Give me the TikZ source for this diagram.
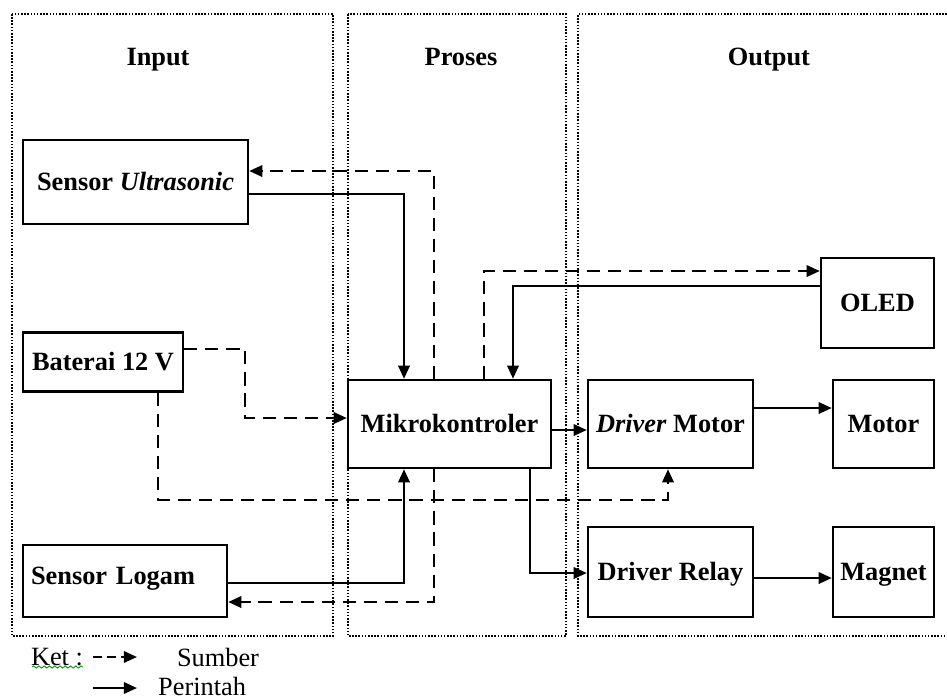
\documentclass[tikz,border=0pt]{standalone}
\usepackage{fontspec}
\setmainfont{Liberation Serif}
\usetikzlibrary{arrows.meta,decorations.pathmorphing}
\tikzset{
  blok/.style={draw, line width=1.4pt, minimum height=1.76cm,
               font=\fontsize{15}{18}\selectfont\bfseries, inner sep=2pt,
               text height=1.1em, text depth=0.15em},
  judul/.style={font=\fontsize{15}{18}\selectfont\bfseries,
                text height=1.1em, text depth=0.15em},
  panel/.style={line width=1.1pt, dash pattern=on 0.9pt off 0.9pt},
  perintah/.style={line width=1.3pt, -{Triangle[length=7.5pt,width=6.5pt]}},
  sumber/.style={perintah, dash pattern=on 7.5pt off 4.5pt},
  ket/.style={font=\fontsize{15}{18}\selectfont},
}

\begin{document}
\begin{tikzpicture}[x=0.02cm, y=-0.02cm]
    \useasboundingbox (0,0) rectangle (947,698);
    % kolom
    \draw[panel] (12,14) rectangle (333,636);
    \draw[panel] (348,14) rectangle (566,636);
    \draw[panel] (947,14) -- (578,14) -- (578,636) -- (947,636);
    \node[judul] (tin) at (158,57) {Input};
    \node[judul] (tpr) at (461,57) {Proses};
    \node[judul] (tout) at (769,57) {Output};
    % blok
    \node[blok, minimum width=4.5cm, minimum height=1.68cm] (ultra) at (135.5,182) {Sensor \textit{Ultrasonic}};
    \node[blok, minimum width=3.2cm, minimum height=1.18cm] (baterai) at (103,362) {Baterai 12 V};
    \node[blok, minimum width=4.08cm, minimum height=1.44cm, text width=3.76cm,
          inner xsep=0.16cm, align=left, text depth=0.75em] (logam) at (125,581) {Sensor Logam};
    \node[blok, minimum width=4.06cm] (mikro) at (449.5,424) {Mikrokontroler};
    \node[blok, minimum width=3.3cm] (drvmotor) at (670.5,424) {\textit{Driver} Motor};
    \node[blok, minimum width=2.02cm] (motor) at (883.5,424) {Motor};
    \node[blok, minimum width=2.26cm, minimum height=1.8cm] (oled) at (877.5,303) {OLED};
    \node[blok, minimum width=3.3cm, minimum height=1.8cm] (drvrelay) at (670.5,572) {Driver Relay};
    \node[blok, minimum width=2.02cm, minimum height=1.8cm] (magnet) at (883.5,572) {Magnet};
    % perintah
    \draw[perintah] ([yshift=-0.24cm]ultra.east) -| ([xshift=-0.91cm]mikro.north);
    \draw[perintah] ([yshift=-0.04cm]logam.east) -| ([xshift=-0.91cm]mikro.south);
    \draw[perintah] ([yshift=-0.12cm]mikro.east) -- ([yshift=-0.12cm]drvmotor.west);
    \draw[perintah] ([xshift=1.61cm]mikro.south) |- ([yshift=-0.02cm]drvrelay.west);
    \draw[perintah] ([yshift=0.34cm]oled.west) -| ([xshift=1.27cm]mikro.north);
    \draw[perintah] ([yshift=0.32cm]drvmotor.east) -- ([yshift=0.32cm]motor.west);
    \draw[perintah] ([yshift=-0.12cm]drvrelay.east) -- ([yshift=-0.12cm]magnet.west);
    % sumber
    \draw[sumber] ([xshift=-0.31cm]mikro.north) |- ([yshift=0.22cm]ultra.east);
    \draw[sumber] ([xshift=-0.31cm]mikro.south) |- ([yshift=-0.42cm]logam.east);
    \draw[sumber] ([yshift=0.26cm]baterai.east) -- ++(1.22cm,0) |- ([yshift=0.12cm]mikro.west);
    \draw[sumber] ([xshift=1.1cm]baterai.south) -- ++(0,-2.14cm) -| ([xshift=-0.05cm]drvmotor.south);
    \draw[sumber] ([xshift=0.69cm]mikro.north) |- ([yshift=0.64cm]oled.west);
    % keterangan
    \node[ket] (ket) at (57,657) {Ket :};
    \draw[green!60!black, line width=0.5pt, decorate,
          decoration={snake, amplitude=0.6pt, segment length=3pt}] (32,667) -- (83,667);
    \coordinate (k1a) at (93,657);
    \coordinate (k1b) at (137,657);
    \coordinate (k2a) at (93,688);
    \coordinate (k2b) at (137,688);
    \draw[sumber, dash pattern=on 5pt off 3pt] (k1a) -- (k1b);
    \draw[perintah] (k2a) -- (k2b);
    \node[ket] (lsumber) at (218,657) {Sumber};
    \node[ket, anchor=west] (lperintah) at (152,686) {Perintah};
  \end{tikzpicture}
\end{document}
